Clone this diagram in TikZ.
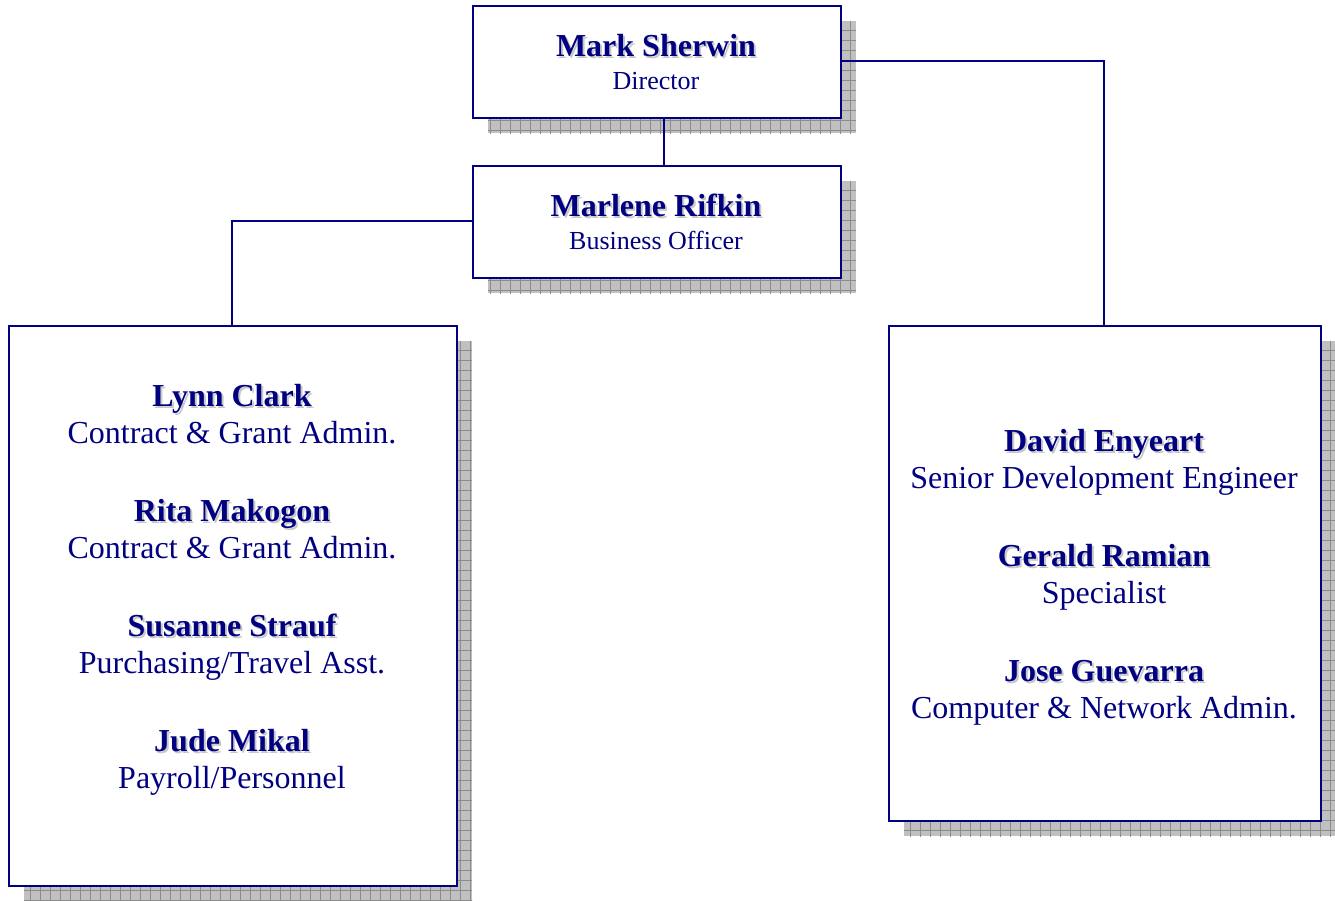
\documentclass[tikz,border=0pt]{standalone}
\usepackage{fontspec}
\setmainfont{Liberation Serif}
\definecolor{navy}{HTML}{000080}
\definecolor{shadowgray}{HTML}{C0C0C0}
\definecolor{gridgray}{HTML}{8C8C8C}
\definecolor{txtshadow}{HTML}{C8C8C8}
\newcommand\shadowed[1]{\rlap{\hspace{2pt}\raisebox{-2pt}{\textcolor{txtshadow}{#1}}}#1}
% #1 x, #2 y (top-left, pixels), #3 width, #4 height
\newcommand\boxshadow[4]{%
  \begin{scope}
    \clip (#1+16,#2+16) rectangle (#1+#3+16,#2+#4+16);
    \fill[shadowgray] (#1+16,#2+16) rectangle (#1+#3+16,#2+#4+16);
    \draw[gridgray, line width=0.8pt, step=10pt] (#1,#2+#4+30) grid (#1+#3+30,#2);
  \end{scope}}
\begin{document}
\begin{tikzpicture}[x=1pt,y=-1pt,
  orgbox/.style={draw=navy, line width=2pt, fill=white, inner sep=0pt, anchor=north west},
  link/.style={draw=navy, line width=1.6pt},
  pname/.style={anchor=base, text=navy, font=\bfseries\fontsize{32}{38}\selectfont, inner sep=0pt},
  prole/.style={anchor=base, text=navy, font=\fontsize{32}{38}\selectfont, inner sep=0pt},
  prolesmall/.style={anchor=base, text=navy, font=\fontsize{26}{31}\selectfont, inner sep=0pt}]
\useasboundingbox (0,0) rectangle (1335,900);

% shadows
\boxshadow{472}{5}{368}{112}
\boxshadow{472}{165}{368}{112}
\boxshadow{8}{325}{448}{560}
\boxshadow{888}{325}{432}{495}

% boxes
\node[orgbox, minimum width=368pt, minimum height=112pt] (mark) at (472,5) {};
\node[orgbox, minimum width=368pt, minimum height=112pt] (marlene) at (472,165) {};
\node[orgbox, minimum width=448pt, minimum height=560pt] (left) at (8,325) {};
\node[orgbox, minimum width=432pt, minimum height=495pt] (right) at (888,325) {};

% connectors
\coordinate (rt) at (1104,61);
\coordinate (lt) at (232,221);
\coordinate (mid) at (664,141);
\draw[link] (mark.south -| mid) -- (marlene.north -| mid);
\draw[link] (mark.east |- rt) -- (rt) -- (rt |- right.north);
\draw[link] (marlene.west |- lt) -- (lt) -- (lt |- left.north);

% texts
\node[pname] (n1) at (656,56) {\shadowed{Mark Sherwin}};
\node[prolesmall] (r1) at (656,89) {Director};
\node[pname] (n2) at (656,216) {\shadowed{Marlene Rifkin}};
\node[prolesmall] (r2) at (656,249) {Business Officer};

\node[pname] (n3) at (232,406) {\shadowed{Lynn Clark}};
\node[prole] (r3) at (232,443) {Contract \& Grant Admin.};
\node[pname] (n4) at (232,521) {\shadowed{Rita Makogon}};
\node[prole] (r4) at (232,558) {Contract \& Grant Admin.};
\node[pname] (n5) at (232,636) {\shadowed{Susanne Strauf}};
\node[prole] (r5) at (232,673) {Purchasing/Travel Asst.};
\node[pname] (n6) at (232,751) {\shadowed{Jude Mikal}};
\node[prole] (r6) at (232,788) {Payroll/Personnel};

\node[pname] (n7) at (1104,451) {\shadowed{David Enyeart}};
\node[prole] (r7) at (1104,488) {Senior Development Engineer};
\node[pname] (n8) at (1104,566) {\shadowed{Gerald Ramian}};
\node[prole] (r8) at (1104,603) {Specialist};
\node[pname] (n9) at (1104,681) {\shadowed{Jose Guevarra}};
\node[prole] (r9) at (1104,718) {Computer \& Network Admin.};
\end{tikzpicture}
\end{document}
